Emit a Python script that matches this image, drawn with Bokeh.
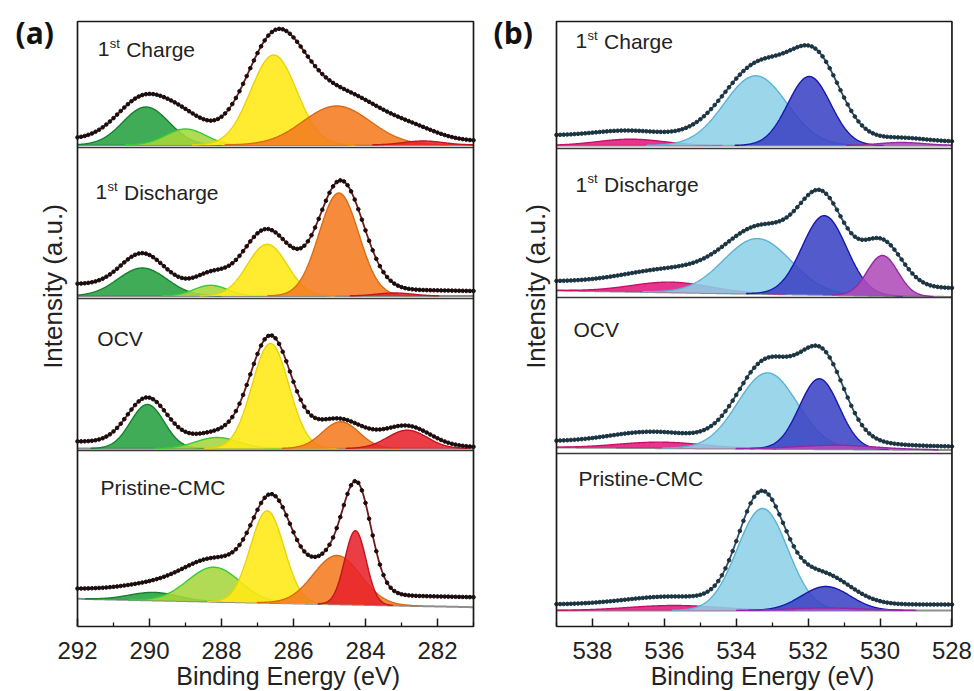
import numpy as np
from bokeh.plotting import figure
from bokeh.models import Range1d, FixedTicker, Label, LinearAxis
from bokeh.layouts import row
from bokeh.embed import file_html
from bokeh.resources import INLINE

# ======================= DATA =======================
SPECTRA = ["1st Charge", "1st Discharge", "OCV", "Pristine-CMC"]

# ---- Panel (a): C 1s ----
A_XLIM = [292, 281]
A_TICKS = [292, 290, 288, 286, 284, 282]
A_MINOR = [291, 289, 287, 285, 283, 281]
# fitted components: centre (eV), height (a.u.), FWHM (eV)
A_CHG_CEN = [290.10, 289.00, 286.55, 284.80, 282.40]
A_CHG_HGT = [38, 16, 90, 39, 4]
A_CHG_FWHM = [1.5, 1.3, 1.5, 2.2, 1.3]
A_DIS_CEN = [290.20, 288.30, 286.73, 284.74, 283.20]
A_DIS_HGT = [28, 10.7, 51.7, 103, 3]
A_DIS_FWHM = [1.6, 1.1, 1.3, 1.3, 1.2]
A_OCV_CEN = [290.06, 288.12, 286.64, 284.69, 282.84]
A_OCV_HGT = [44, 11, 105, 26.7, 18.3]
A_OCV_FWHM = [1.1, 1.4, 1.2, 1.2, 1.3]
A_PRI_CEN = [289.88, 288.21, 286.73, 284.79, 284.28]
A_PRI_HGT = [8, 34.5, 92, 48.8, 74]
A_PRI_FWHM = [1.6, 1.7, 1.1, 1.55, 0.7]
# measured spectrum (envelope) shape
A_CHG_ENV_CEN = [290.15, 289.00, 286.50, 284.60, 282.60]
A_CHG_ENV_HGT = [42, 18, 100, 45, 8]
A_CHG_ENV_FWHM = [1.7, 1.4, 1.9, 2.6, 1.6]
A_CHG_BG = [6, 4]
A_DIS_ENV_CEN = [290.20, 288.30, 286.75, 284.68]
A_DIS_ENV_HGT = [32, 12, 58, 108]
A_DIS_ENV_FWHM = [1.4, 1.0, 1.5, 1.45]
A_DIS_BG = [12, 5]
A_OCV_ENV_CEN = [290.06, 288.20, 286.64, 284.75, 282.85]
A_OCV_ENV_HGT = [45, 10, 108, 26, 20]
A_OCV_ENV_FWHM = [1.3, 1.4, 1.35, 1.6, 1.5]
A_OCV_BG = [7, 1.5]
A_PRI_ENV_CEN = [289.90, 288.20, 286.60, 284.85, 284.22]
A_PRI_ENV_HGT = [6, 32, 92, 38, 88]
A_PRI_ENV_FWHM = [2.0, 2.0, 1.3, 1.6, 0.9]
A_PRI_BG = [10, 10]

# ---- Panel (b): O 1s ----
B_XLIM = [539, 528]
B_TICKS = [538, 536, 534, 532, 530, 528]
B_MINOR = [539, 537, 535, 533, 531, 529]
B_CHG_CEN = [536.94, 533.46, 531.97, 529.40]
B_CHG_HGT = [6.3, 69.7, 69, 3]
B_CHG_FWHM = [2.2, 2.05, 1.4, 1.5]
B_DIS_CEN = [535.82, 533.41, 531.55, 529.93]
B_DIS_HGT = [10.2, 55.2, 79.2, 40.4]
B_DIS_FWHM = [2.6, 2.2, 1.45, 1.0]
B_OCV_CEN = [536.10, 533.13, 531.69, 531.20]
B_OCV_HGT = [6, 76, 70.4, 4]
B_OCV_FWHM = [2.8, 1.95, 1.3, 2.6]
B_PRI_CEN = [535.73, 533.27, 531.51, 531.50]
B_PRI_HGT = [5, 102, 24, 2.5]
B_PRI_FWHM = [3.0, 1.65, 1.6, 2.5]
B_CHG_ENV_CEN = [537.0, 533.35, 531.75, 529.4]
B_CHG_ENV_HGT = [6, 74, 70, 3]
B_CHG_ENV_FWHM = [2.2, 2.3, 1.6, 1.5]
B_CHG_BG = [10, 4]
B_DIS_ENV_CEN = [535.8, 533.3, 531.6, 529.95]
B_DIS_ENV_HGT = [14, 56, 82, 45]
B_DIS_ENV_FWHM = [3.0, 2.3, 1.5, 1.3]
B_DIS_BG = [9, 9]
B_OCV_ENV_CEN = [536.3, 533.15, 531.6, 531.0]
B_OCV_ENV_HGT = [11, 82, 80, 4]
B_OCV_ENV_FWHM = [2.8, 1.9, 1.45, 2.5]
B_OCV_BG = [6, 3.5]
B_PRI_ENV_CEN = [535.8, 533.3, 531.6]
B_PRI_ENV_HGT = [8, 110, 30]
B_PRI_ENV_FWHM = [3.0, 1.5, 1.8]
B_PRI_BG = [6, 6]

# ======================= LAYOUT / STYLE =======================
A_COLORS = [("#25a040", "#15802c"), ("#a6d63c", "#33cc33"), ("#ffe914", "#e9d400"),
            ("#f47b20", "#dc6a14"), ("#e8222b", "#c2161e")]
B_COLORS = [("#e3197c", "#c80f6a"), ("#8dd0e7", "#5ab3d6"), ("#3b43c4", "#1717b0"),
            ("#b04cb8", "#9526a6")]
A_BASES = [(481.5, 481.5), (330.5, 330.5), (178, 178), (27.7, 19.3)]
B_BASES = [(481, 481), (336, 329.5), (179, 176.5), (16, 16)]
A_SEPS = [479, 328, 176]
B_SEPS = [478, 329, 173]
A_LABEL_XY = [(291.44, 577.2), (291.50, 434.3), (291.45, 288.5), (291.36, 139.5)]
B_LABEL_XY = [(538.47, 585.2), (538.47, 442.0), (538.53, 296.8), (538.39, 148.2)]
BOX_TOP = 605
FIG_H = 690
Y_LO, Y_HI = -64, 626
FONT = "Liberation Sans"
TXT = "#222222"


def gauss(x, c, h, w):
    s = w / 2.3548
    return h * np.exp(-0.5 * ((x - c) / s) ** 2)


def ramp(x, lo, hi, v_hi, v_lo):
    t = (x - lo) / (hi - lo)
    return v_lo + (v_hi - v_lo) * t


def draw_spectrum(p, lo, hi, base_pair, cen, hgt, fwhm, colors,
                  ecen, ehgt, efwhm, bg_pair, env_line, dot_color):
    x = np.linspace(lo, hi, 900)
    base = ramp(x, lo, hi, *base_pair)
    p.line(x, base, line_color="#8e8e8e", line_width=2)
    for c, h, w, (fc, lc) in zip(cen, hgt, fwhm, colors):
        g = gauss(x, c, h, w)
        m = g > 0.15
        p.varea(x=x[m], y1=base[m], y2=(base + g)[m], fill_color=fc, fill_alpha=0.88)
        p.line(x[m], (base + g)[m], line_color=lc, line_width=1.4)

    def env(xx):
        b = ramp(xx, lo, hi, *base_pair) + ramp(xx, lo, hi, *bg_pair)
        for c, h, w in zip(ecen, ehgt, efwhm):
            b = b + gauss(xx, c, h, w)
        return b

    p.line(x, env(x), line_color=env_line, line_width=1.8)
    xm = np.arange(lo, hi + 1e-9, 0.1)
    p.scatter(xm, env(xm), size=3.6, marker="circle", fill_color=dot_color,
              line_color=dot_color)


def spectrum_label(p, text, x, y):
    kw = dict(text_font=FONT, text_color=TXT, text_baseline="middle")
    if text.startswith("1st "):
        p.add_layout(Label(x=x, y=y, text="1", text_font_size="21px", **kw))
        p.add_layout(Label(x=x, y=y, x_offset=12, y_offset=6, text="st",
                           text_font_size="13px", **kw))
        p.add_layout(Label(x=x, y=y, x_offset=28.5, text=text[4:],
                           text_font_size="21px", **kw))
    else:
        p.add_layout(Label(x=x, y=y, text=text, text_font_size="21px", **kw))


def make_panel(xlim, ticks, minor, width, box_left_px, px_per_ev, tag, tag_x, ylab_x, xlab_x,
               spectra, bases, seps, label_xy, colors, env_line, dot_color):
    x_start = xlim[0] + box_left_px / px_per_ev
    x_end = x_start - width / px_per_ev
    p = figure(width=width, height=FIG_H, x_range=Range1d(x_start, x_end),
               y_range=Range1d(Y_LO, Y_HI), output_backend="svg", toolbar_location=None,
               x_axis_location=None, y_axis_location=None,
               min_border=0, title=None)
    p.grid.grid_line_color = None
    p.outline_line_color = None
    ax = LinearAxis(fixed_location=0, ticker=FixedTicker(ticks=ticks, minor_ticks=minor))
    ax.axis_line_color = None
    ax.major_tick_in = 8
    ax.major_tick_out = 0
    ax.minor_tick_in = 4
    ax.minor_tick_out = 0
    ax.major_tick_line_width = 1.5
    ax.minor_tick_line_width = 1.3
    ax.major_tick_line_color = "#1a1a1a"
    ax.minor_tick_line_color = "#1a1a1a"
    ax.major_label_text_font = FONT
    ax.major_label_text_font_size = "24px"
    ax.major_label_text_color = TXT
    ax.major_label_standoff = 15
    p.add_layout(ax, "below")

    lo, hi = min(xlim), max(xlim)
    for i, sp in enumerate(spectra):
        cen, hgt, fwhm, ecen, ehgt, efwhm, bg = sp
        draw_spectrum(p, lo, hi, bases[i], cen, hgt, fwhm, colors[:len(cen)],
                      ecen, ehgt, efwhm, bg, env_line, dot_color)
    for s in seps:
        p.line([lo, hi], [s, s], line_color="#3a3a3a", line_width=1.5)
    # panel box
    p.line([hi, lo, lo, hi, hi], [0, 0, BOX_TOP, BOX_TOP, 0], line_color="#1a1a1a",
           line_width=1.7)
    for name, (lx, ly) in zip(SPECTRA, label_xy):
        spectrum_label(p, name, lx, ly)
    p.add_layout(Label(x=tag_x, y=594, text=tag, text_font="Open Sans", text_font_style="bold",
                       text_font_size="30px", text_color="#111111", text_baseline="middle"))
    p.add_layout(Label(x=ylab_x, y=340, text="Intensity (a.u.)", angle=np.pi / 2,
                       text_align="center", text_baseline="middle", text_font=FONT,
                       text_font_size="26px", text_color=TXT))
    p.add_layout(Label(x=xlab_x, y=-49.5, text="Binding Energy (eV)", text_align="center",
                       text_baseline="middle", text_font=FONT, text_font_size="25px",
                       text_color=TXT))
    return p


A_SPECTRA = [
    (A_CHG_CEN, A_CHG_HGT, A_CHG_FWHM, A_CHG_ENV_CEN, A_CHG_ENV_HGT, A_CHG_ENV_FWHM, A_CHG_BG),
    (A_DIS_CEN, A_DIS_HGT, A_DIS_FWHM, A_DIS_ENV_CEN, A_DIS_ENV_HGT, A_DIS_ENV_FWHM, A_DIS_BG),
    (A_OCV_CEN, A_OCV_HGT, A_OCV_FWHM, A_OCV_ENV_CEN, A_OCV_ENV_HGT, A_OCV_ENV_FWHM, A_OCV_BG),
    (A_PRI_CEN, A_PRI_HGT, A_PRI_FWHM, A_PRI_ENV_CEN, A_PRI_ENV_HGT, A_PRI_ENV_FWHM, A_PRI_BG),
]
B_SPECTRA = [
    (B_CHG_CEN, B_CHG_HGT, B_CHG_FWHM, B_CHG_ENV_CEN, B_CHG_ENV_HGT, B_CHG_ENV_FWHM, B_CHG_BG),
    (B_DIS_CEN, B_DIS_HGT, B_DIS_FWHM, B_DIS_ENV_CEN, B_DIS_ENV_HGT, B_DIS_ENV_FWHM, B_DIS_BG),
    (B_OCV_CEN, B_OCV_HGT, B_OCV_FWHM, B_OCV_ENV_CEN, B_OCV_ENV_HGT, B_OCV_ENV_FWHM, B_OCV_BG),
    (B_PRI_CEN, B_PRI_HGT, B_PRI_FWHM, B_PRI_ENV_CEN, B_PRI_ENV_HGT, B_PRI_ENV_FWHM, B_PRI_BG),
]

pa = make_panel(A_XLIM, A_TICKS, A_MINOR, 488, 77, 36.0, "(a)", 293.72, 292.69, 286.15,
                A_SPECTRA, A_BASES, A_SEPS, A_LABEL_XY, A_COLORS, "#6e1a1a", "#1a0c0c")
pb = make_panel(B_XLIM, B_TICKS, B_MINOR, 484, 68, 35.95, "(b)", 540.75, 539.58, 533.27,
                B_SPECTRA, B_BASES, B_SEPS, B_LABEL_XY, B_COLORS, "#2c5163", "#1b3442")

layout = row(pa, pb)
open("out.html", "w").write(file_html(layout, INLINE))
